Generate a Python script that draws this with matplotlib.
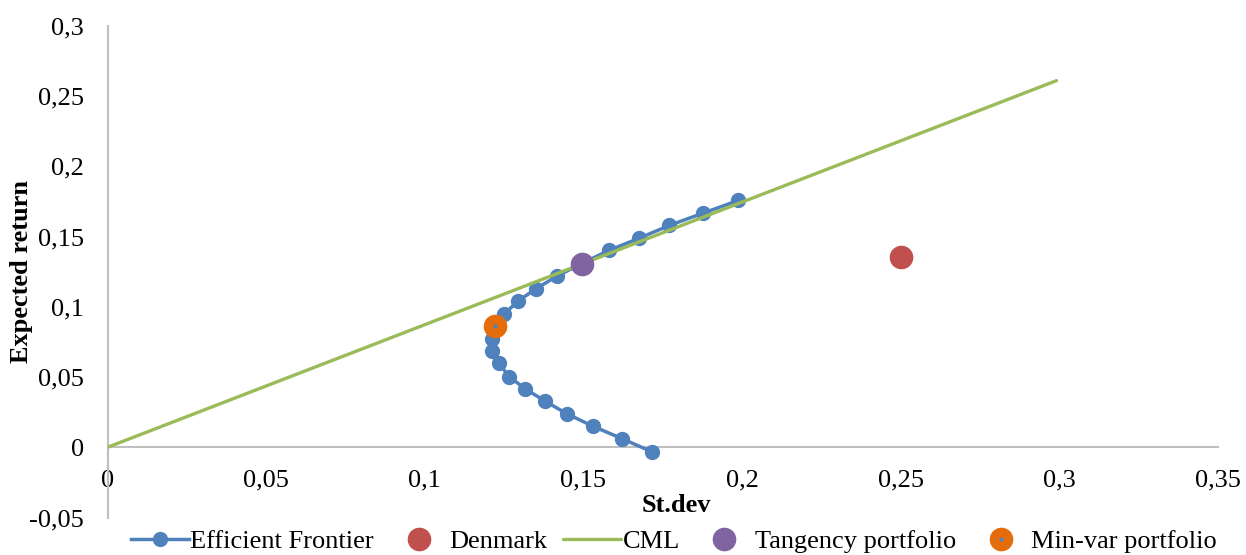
import matplotlib
matplotlib.use("Agg")
import matplotlib.pyplot as plt
from matplotlib.ticker import FuncFormatter

plt.rcParams['font.family'] = ['Liberation Serif', 'DejaVu Serif']

# efficient frontier (st.dev, expected return)
ef_sd = [0.1988, 0.1878, 0.1771, 0.1675, 0.1581, 0.1494, 0.1416, 0.1350, 0.1293, 0.1251,
         0.1221, 0.1211, 0.1213, 0.1234, 0.1266, 0.1316, 0.1379, 0.1449, 0.1531, 0.1621, 0.1717]
ef_ret = [0.1758, 0.1668, 0.1580, 0.1488, 0.1403, 0.1308, 0.1218, 0.1128, 0.1040, 0.0950,
          0.0862, 0.0773, 0.0685, 0.0597, 0.0503, 0.0417, 0.0329, 0.0237, 0.0149, 0.0062, -0.0033]

dk_sd = [0.2501]
dk_ret = [0.1353]

cml_sd = [0.0, 0.2991]
cml_ret = [0.0, 0.2611]

tan_sd = [0.1494]
tan_ret = [0.1308]

mv_sd = [0.1221]
mv_ret = [0.0862]

blue = '#4F81BD'
red = '#C0504D'
green = '#9BBB59'
purple = '#8064A2'
orange = '#E46C0A'
fs = 19

fig = plt.figure(figsize=(12.46, 5.55), dpi=100)
ax = fig.add_axes([107.5 / 1246, 1 - 517.5 / 555, (1218 - 107.5) / 1246, (517.5 - 26) / 555])

h_ef, = ax.plot(ef_sd, ef_ret, color=blue, lw=2.5, marker='o', ms=10, zorder=3)
h_dk, = ax.plot(dk_sd, dk_ret, ls='none', marker='o', ms=16, color=red, zorder=4)
h_cml, = ax.plot(cml_sd, cml_ret, color=green, lw=2.4, zorder=4, solid_capstyle='round')
h_tan, = ax.plot(tan_sd, tan_ret, ls='none', marker='o', ms=16, color=purple, zorder=5)
h_mv, = ax.plot(mv_sd, mv_ret, ls='none', marker='o', ms=16, color=orange, zorder=5)
h_dot, = ax.plot(mv_sd, mv_ret, ls='none', marker='o', ms=2, color=blue, zorder=6)

ax.set_xlim(0, 0.35)
ax.set_ylim(-0.05, 0.3)
ax.set_xticks([0, 0.05, 0.1, 0.15, 0.2, 0.25, 0.3, 0.35])
ax.set_yticks([-0.05, 0, 0.05, 0.1, 0.15, 0.2, 0.25, 0.3])
fmt = FuncFormatter(lambda v, p: ('%g' % round(v, 2)).replace('.', ','))
ax.xaxis.set_major_formatter(fmt)
ax.yaxis.set_major_formatter(fmt)

for s in ['top', 'right']:
    ax.spines[s].set_visible(False)
ax.spines['bottom'].set_position(('data', 0))
ax.spines['bottom'].set_color('#BFBFBF')
ax.spines['left'].set_color('#BFBFBF')
ax.spines['bottom'].set_linewidth(1.5)
ax.spines['left'].set_linewidth(1.5)
ax.tick_params(axis='x', length=0, pad=16, labelsize=fs)
ax.tick_params(axis='y', length=0, pad=17, labelsize=fs)

ax.set_xlabel('St.dev', fontsize=fs, fontweight='bold')
ax.xaxis.set_label_coords((676 - 107.5) / (1218 - 107.5), -(506 - 517.5) / (517.5 - 26))
ax.xaxis.label.set_va('center')
ax.set_ylabel('Expected return', fontsize=fs, fontweight='bold')
ax.yaxis.set_label_coords(-(107.5 - 22) / (1218 - 107.5), 0.5)
ax.yaxis.label.set_va('center')

fig.legend([h_ef, h_dk, h_cml, h_tan, (h_mv, h_dot)],
           ['Efficient Frontier', 'Denmark', 'CML', 'Tangency portfolio', 'Min-var portfolio'],
           loc='center', bbox_to_anchor=(674 / 1246, 1 - 541 / 555), ncol=5, frameon=False,
           fontsize=fs, handlelength=2.2, handletextpad=0.05, columnspacing=0.6, borderpad=0)

fig.savefig('out.png', dpi=100)
